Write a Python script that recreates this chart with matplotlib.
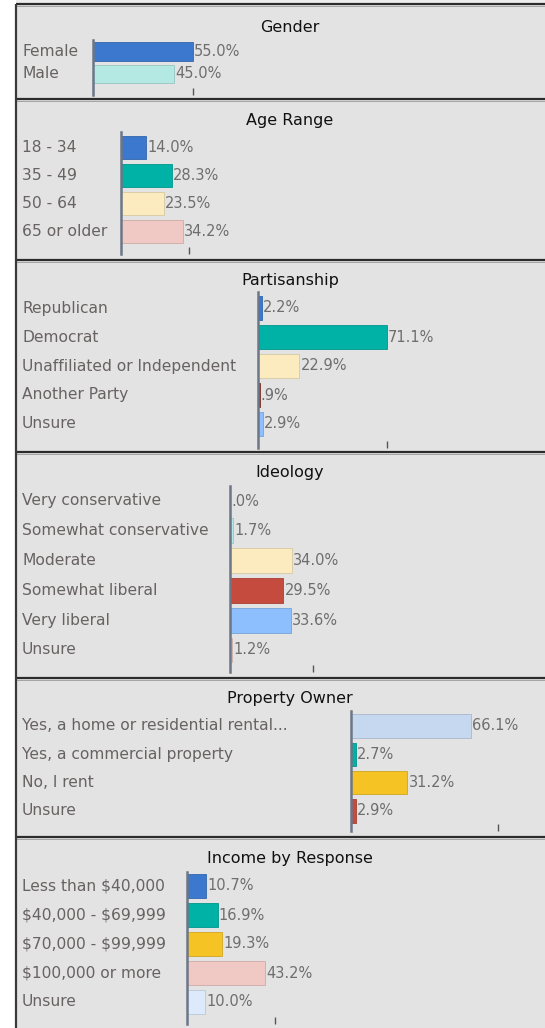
import matplotlib
matplotlib.use("Agg")
import matplotlib.pyplot as plt
import matplotlib.transforms as mtransforms
import matplotlib.colors as mcolors
from matplotlib.patches import Rectangle

## Data
gender_labels = ["Female", "Male"]
gender_values = [55.0, 45.0]

age_labels = ["18 - 34", "35 - 49", "50 - 64", "65 or older"]
age_values = [14.0, 28.3, 23.5, 34.2]

party_labels = ["Republican", "Democrat", "Unaffiliated or Independent", "Another Party", "Unsure"]
party_values = [2.2, 71.1, 22.9, 0.9, 2.9]

ideology_labels = ["Very conservative", "Somewhat conservative", "Moderate",
                   "Somewhat liberal", "Very liberal", "Unsure"]
ideology_values = [0.0, 1.7, 34.0, 29.5, 33.6, 1.2]

property_labels = ["Yes, a home or residential rental...", "Yes, a commercial property",
                   "No, I rent", "Unsure"]
property_values = [66.1, 2.7, 31.2, 2.9]

income_labels = ["Less than $40,000", "$40,000 - $69,999", "$70,000 - $99,999",
                 "$100,000 or more", "Unsure"]
income_values = [10.7, 16.9, 19.3, 43.2, 10.0]

## Colours
blue = "#3C78CD"
teal = "#00B1A5"
ltteal = "#B3E8E3"
ltyellow = "#FCEBBF"
pink = "#F0C9C5"
red = "#C54B3E"
ltblue = "#8DBEFD"
paleblue = "#C5D8F0"
gold = "#F5C324"
verypale = "#DCEAFB"
darkred = "#8A3A33"

gender_colors = [blue, ltteal]
age_colors = [blue, teal, ltyellow, pink]
party_colors = [blue, teal, ltyellow, darkred, ltblue]
ideology_colors = [blue, ltteal, ltyellow, red, ltblue, pink]
property_colors = [paleblue, teal, gold, red]
income_colors = [blue, teal, gold, pink, verypale]

# title, labels, values, colors, tick value
panels = [
    ("Gender", gender_labels, gender_values, gender_colors, 55.0),
    ("Age Range", age_labels, age_values, age_colors, 37.5),
    ("Partisanship", party_labels, party_values, party_colors, 71.1),
    ("Ideology", ideology_labels, ideology_values, ideology_colors, 46.0),
    ("Property Owner", property_labels, property_values, property_colors, 81.0),
    ("Income by Response", income_labels, income_values, income_colors, 48.6),
]

# pixel layout: panel top, panel bottom, title y, axis x, axis top, axis bottom, first row y, row pitch
layout = [
    (4, 99, 28, 93, 40, 95, 51.5, 22.5),
    (99, 260, 120, 121, 132, 254, 147.5, 28.0),
    (260, 452, 280, 258, 292, 448, 308.0, 29.0),
    (452, 678, 473, 230, 486, 672, 501.0, 29.8),
    (678, 837, 699, 351, 711, 831, 726.0, 28.3),
    (837, 1040, 859, 187, 872, 1024, 886.0, 29.0),
]

W, H = 545, 1028
PX_PER_PCT = 1.81

fig = plt.figure(figsize=(W / 100, H / 100), dpi=100)
fig.patch.set_facecolor("white")

bg = fig.add_axes([0, 0, 1, 1])
bg.set_xlim(0, W)
bg.set_ylim(H, 0)
bg.axis("off")
bg.add_patch(Rectangle((16, 0), W - 16, 4, facecolor="#EDEDED", edgecolor="none"))


def fmt(v):
    s = "%.1f%%" % v
    if s.startswith("0."):
        s = s[1:]
    return s


def darker(c, f=0.85):
    r, g, b = mcolors.to_rgb(c)
    return (r * f, g * f, b * f)


for (title, labels, values, colors, tick), lay in zip(panels, layout):
    top, bot, ty, ax_x, ax_top, ax_bot, row0, pitch = lay

    bg.add_patch(Rectangle((16, top), W - 16, bot - top, facecolor="#E3E3E3", edgecolor="none"))
    bg.plot([16, W], [top, top], color="#2B2B2B", lw=1.6, solid_capstyle="butt")
    bg.plot([16, W], [top + 1.8, top + 1.8], color="#9A9A9A", lw=0.6, solid_capstyle="butt")
    bg.text(290, ty, title, ha="center", va="center", fontsize=11.5, color="#111111")

    ax = fig.add_axes([ax_x / W, 1 - ax_bot / H, 1 - ax_x / W, (ax_bot - ax_top) / H])
    ax.patch.set_alpha(0)
    ax.set_xlim(0, (W - ax_x) / PX_PER_PCT)
    ax.set_ylim((ax_bot - row0) / pitch, -(row0 - ax_top) / pitch)

    pos = list(range(len(values)))
    ax.barh(pos, values, height=0.83, color=colors,
            edgecolor=[darker(c) for c in colors], linewidth=0.6)

    for sp in ["top", "right", "bottom"]:
        ax.spines[sp].set_visible(False)
    ax.spines["left"].set_color("#6B7686")
    ax.spines["left"].set_linewidth(1.8)
    ax.set_yticks([])
    ax.set_xticks([tick])
    ax.tick_params(axis="x", direction="in", length=5, width=1.0, color="#555555",
                   labelbottom=False)

    trans = mtransforms.blended_transform_factory(fig.transFigure, ax.transData)
    for i, (lab, v) in enumerate(zip(labels, values)):
        ax.text(22 / W, i, lab.replace("$", r"\$"), transform=trans, ha="left", va="center",
                fontsize=11.2, color="#686262")
        ax.annotate(fmt(v), (v, i), xytext=(0.8, 0), textcoords="offset points",
                    ha="left", va="center", fontsize=10.5, color="#6E6E6E")

# left border
bg.plot([16, 16], [4, H], color="#3A3A3A", lw=1.6, solid_capstyle="butt")

fig.savefig("out.png", dpi=100)
